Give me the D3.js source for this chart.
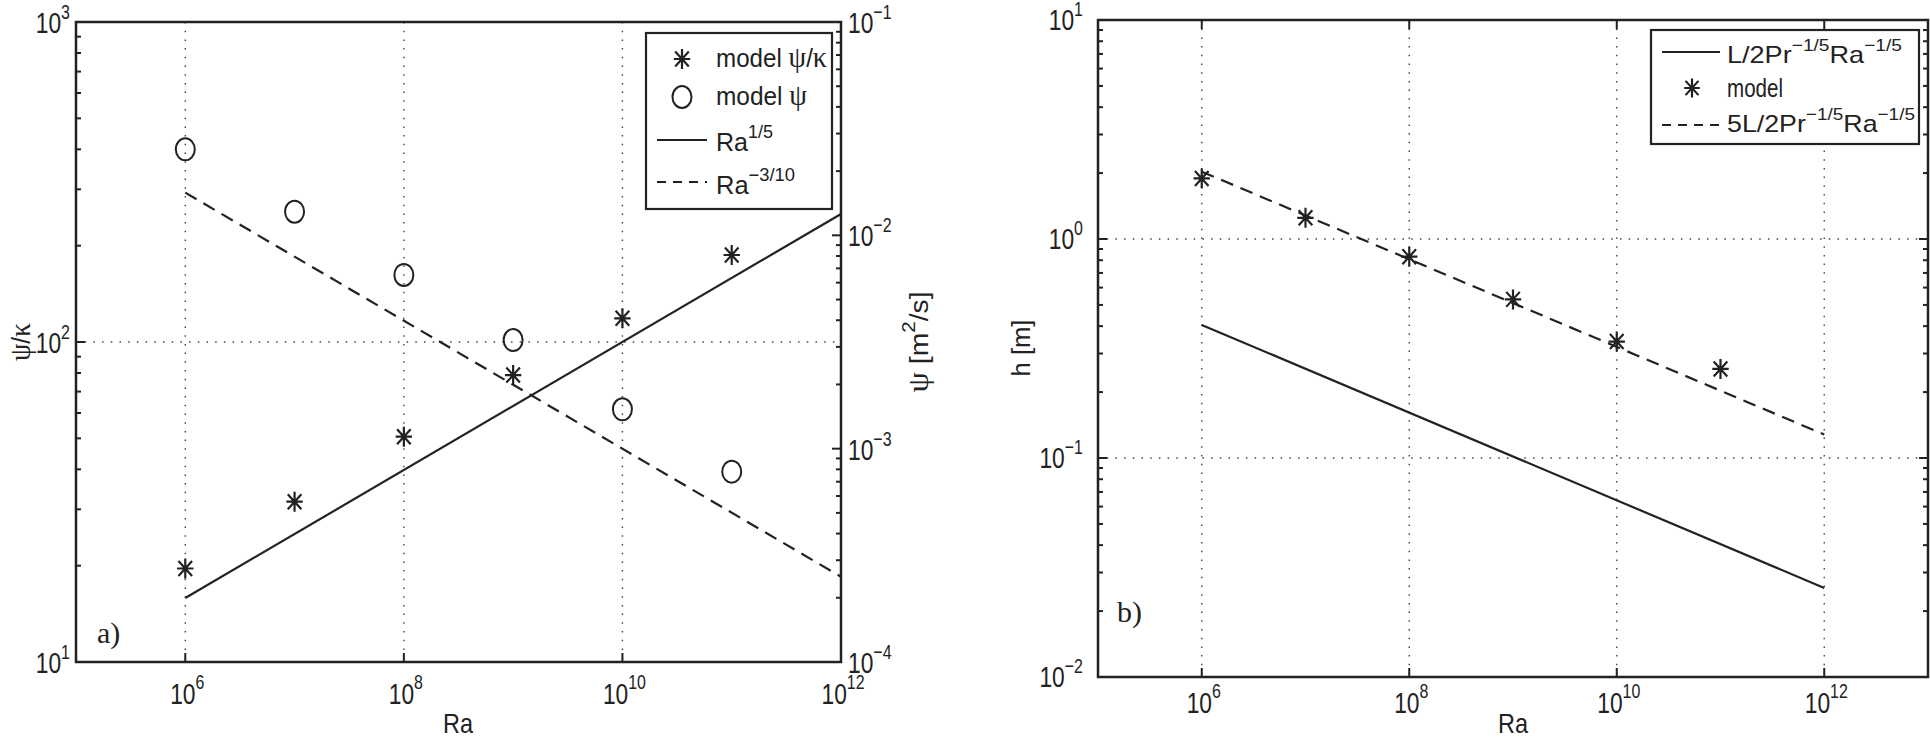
<!DOCTYPE html>
<html>
<head>
<meta charset="utf-8">
<script src="https://cdn.jsdelivr.net/npm/d3@7"></script>
<style>
  body { margin: 0; background: #fff; }
  svg { display: block; }
</style>
</head>
<body>
<svg id="plotarea" width="1930" height="742"></svg>
<script>
// ---- data ----
var raModel = [1e6, 1e7, 1e8, 1e9, 1e10, 1e11];
var psiKappa = [19.6, 31.7, 50.6, 78.8, 118.6, 187];      // left axis, panel a
var psiModel = [0.0253, 0.0129, 0.00652, 0.00323, 0.00153, 0.00078]; // right axis, panel a
var raFit = [1e6, 1e12];
var fitRa15 = [15.85, 251.2];        // Ra^(1/5)
var fitRa310 = [0.01585, 0.000251];  // Ra^(-3/10)
var hModel = [1.89, 1.25, 0.83, 0.53, 0.34, 0.255];
var hFit = [0.405, 0.0255];          // L/2 Pr^-1/5 Ra^-1/5
var hFit5 = [2.03, 0.128];           // 5L/2 Pr^-1/5 Ra^-1/5

var xTicks = [1e6, 1e8, 1e10, 1e12];
var yLeftTicks = [10, 100, 1000];
var yRightTicks = [1e-4, 1e-3, 1e-2, 1e-1];
var hTicks = [0.01, 0.1, 1, 10];

var SANS = "Arial, 'Liberation Sans', Helvetica, sans-serif";
var SERIF = "'Times New Roman', 'Liberation Serif', serif";
var SQ = 0.76; // tick text in the picture is horizontally squeezed
var GRID_DASH = "1.5,7.2";

var svg = d3.select("#plotarea");
svg.append("rect").attr("width", 1930).attr("height", 742).attr("fill", "#fff");

function pow10(v) { return Math.round(Math.log10(v)); }
function isMajor(v) { return Math.abs(Math.log10(v) - pow10(v)) < 1e-9; }

// label "10^n" with a raised exponent
function powLabel(g, x, y, v, anchor, expDy) {
    var t = g.append("text")
        .attr("transform", "translate(" + x + "," + y + ") scale(" + SQ + ",1)")
        .attr("text-anchor", anchor)
        .style("font-family", SANS)
        .style("font-size", "30px")
        .attr("fill", "#222");
    t.append("tspan").text("10");
    var e = pow10(v);
    t.append("tspan").attr("dy", -expDy).style("font-size", "21px")
        .text(e < 0 ? "\u2212" + (-e) : String(e));
    return t;
}

// text made from parts: [string, kind] kind = n | sup | greek; len = target width
function richText(g, x, y, parts, size, len, rotate) {
    var tf = "translate(" + x + "," + y + ")" + (rotate ? " rotate(-90)" : "");
    var t = g.append("text")
        .attr("transform", tf)
        .attr("text-anchor", rotate ? "middle" : "start")
        .style("font-family", SANS)
        .style("font-size", size + "px")
        .attr("fill", "#222");
    if (len) t.attr("textLength", len).attr("lengthAdjust", "spacingAndGlyphs");
    var raised = 0;
    parts.forEach(function (p) {
        var s = t.append("tspan").text(p[0]);
        var want = p[1] == "sup" ? Math.round(size * 0.5) : 0;
        if (want != raised) { s.attr("dy", raised - want); raised = want; }
        if (p[1] == "sup") s.style("font-size", Math.round(size * 0.72) + "px");
        if (p[1] == "greek") s.style("font-family", SERIF).style("font-size", (size + 4) + "px");
    });
    return t;
}

function starPath(s) {
    var a = s, b = s * 0.82, d = s * 0.68, e = s * 0.75;
    return "M0," + (-a) + "V" + a + "M" + (-b) + ",0H" + b +
        "M" + (-d) + "," + (-e) + "L" + d + "," + e +
        "M" + (-d) + "," + e + "L" + d + "," + (-e);
}

function stars(g, xs, ys, x, y) {
    g.selectAll(null).data(xs).enter().append("path")
        .attr("transform", function (d, i) { return "translate(" + x(d) + "," + y(ys[i]) + ")"; })
        .attr("d", starPath(10))
        .attr("stroke", "#222").attr("stroke-width", 2.2).attr("fill", "none");
}

function rings(g, xs, ys, x, y) {
    g.selectAll(null).data(xs).enter().append("ellipse")
        .attr("cx", function (d) { return x(d); })
        .attr("cy", function (d, i) { return y(ys[i]); })
        .attr("rx", 9.5).attr("ry", 11)
        .attr("stroke", "#222").attr("stroke-width", 2).attr("fill", "none");
}

function fitLine(g, xs, ys, x, y, dashed) {
    var line = d3.line().x(function (d) { return x(d[0]); }).y(function (d) { return y(d[1]); });
    g.append("path")
        .datum(xs.map(function (d, i) { return [d, ys[i]]; }))
        .attr("d", line)
        .attr("fill", "none").attr("stroke", "#222").attr("stroke-width", 2.2)
        .attr("stroke-dasharray", dashed ? "13,8" : null);
}

function vTicks(g, y, xPos, dir) {
    // dir = +1 ticks go right, -1 go left
    y.ticks().forEach(function (v) {
        var len = isMajor(v) ? 9 : 5;
        g.append("line").attr("x1", xPos).attr("x2", xPos + dir * len)
            .attr("y1", y(v)).attr("y2", y(v))
            .attr("stroke", "#222").attr("stroke-width", 2);
    });
}

// ================= panel a =================
var xa = d3.scaleLog().domain([1e5, 1e12]).range([76, 841]);
var ya = d3.scaleLog().domain([10, 1000]).range([662, 22]);
var yb = d3.scaleLog().domain([1e-4, 1e-1]).range([662, 22]);
var ga = svg.append("g");

// grid
xTicks.forEach(function (v) {
    ga.append("line").attr("x1", xa(v)).attr("x2", xa(v)).attr("y1", 22).attr("y2", 662)
        .attr("stroke", "#444").attr("stroke-width", 1.4).attr("stroke-dasharray", GRID_DASH);
});
yLeftTicks.forEach(function (v) {
    ga.append("line").attr("x1", 76).attr("x2", 841).attr("y1", ya(v)).attr("y2", ya(v))
        .attr("stroke", "#444").attr("stroke-width", 1.4).attr("stroke-dasharray", GRID_DASH);
});

fitLine(ga, raFit, fitRa15, xa, ya, false);
fitLine(ga, raFit, fitRa310, xa, yb, true);
stars(ga, raModel, psiKappa, xa, ya);
rings(ga, raModel, psiModel, xa, yb);

// frame
ga.append("rect").attr("x", 76).attr("y", 22).attr("width", 765).attr("height", 640)
    .attr("fill", "none").attr("stroke", "#222").attr("stroke-width", 2.5);
vTicks(ga, ya, 76, 1);
vTicks(ga, yb, 841, -1);
xTicks.forEach(function (v) {
    ga.append("line").attr("x1", xa(v)).attr("x2", xa(v)).attr("y1", 662).attr("y2", 653)
        .attr("stroke", "#222").attr("stroke-width", 2);
    powLabel(ga, xa(v) + 2, 704, v, "middle", 15);
});
yLeftTicks.forEach(function (v) { powLabel(ga, 70, ya(v) + 11, v, "end", 14); });
yRightTicks.forEach(function (v) { powLabel(ga, 848, yb(v) + 11, v, "start", 14); });

richText(ga, 443, 733, [["Ra", "n"]], 28, 30, false);
richText(ga, 30, 342, [["\u03c8", "greek"], ["/", "n"], ["\u03ba", "greek"]], 26, 38, true);
richText(ga, 928, 342, [["\u03c8", "greek"], [" [m", "n"], ["2", "sup"], ["/s]", "n"]], 26, 101, true);
ga.append("text").attr("x", 97).attr("y", 643).style("font-family", SERIF)
    .style("font-size", "30px").attr("fill", "#222").text("a)");

// legend a
var la = ga.append("g");
la.append("rect").attr("x", 646).attr("y", 33).attr("width", 186).attr("height", 176)
    .attr("fill", "#fff").attr("stroke", "#222").attr("stroke-width", 2.2);
la.append("path").attr("transform", "translate(682,59)").attr("d", starPath(10))
    .attr("stroke", "#222").attr("stroke-width", 2.2).attr("fill", "none");
richText(la, 716, 67, [["model ", "n"], ["\u03c8", "greek"], ["/", "n"], ["\u03ba", "greek"]], 25, 111, false);
la.append("ellipse").attr("cx", 682).attr("cy", 97).attr("rx", 9.5).attr("ry", 11)
    .attr("stroke", "#222").attr("stroke-width", 2).attr("fill", "none");
richText(la, 716, 105, [["model ", "n"], ["\u03c8", "greek"]], 25, 91, false);
la.append("line").attr("x1", 657).attr("x2", 707).attr("y1", 140).attr("y2", 140)
    .attr("stroke", "#222").attr("stroke-width", 2.2);
richText(la, 716, 151, [["Ra", "n"], ["1/5", "sup"]], 25, 57, false);
la.append("line").attr("x1", 657).attr("x2", 707).attr("y1", 182).attr("y2", 182)
    .attr("stroke", "#222").attr("stroke-width", 2.2).attr("stroke-dasharray", "9,7");
richText(la, 716, 194, [["Ra", "n"], ["\u22123/10", "sup"]], 25, 79, false);

// ================= panel b =================
var xh = d3.scaleLog().domain([1e5, 1e13]).range([1098, 1928]);
var yh = d3.scaleLog().domain([0.01, 10]).range([677, 20]);
var gb = svg.append("g");

xTicks.forEach(function (v) {
    gb.append("line").attr("x1", xh(v)).attr("x2", xh(v)).attr("y1", 20).attr("y2", 677)
        .attr("stroke", "#444").attr("stroke-width", 1.4).attr("stroke-dasharray", GRID_DASH);
});
hTicks.forEach(function (v) {
    gb.append("line").attr("x1", 1098).attr("x2", 1928).attr("y1", yh(v)).attr("y2", yh(v))
        .attr("stroke", "#444").attr("stroke-width", 1.4).attr("stroke-dasharray", GRID_DASH);
});

fitLine(gb, raFit, hFit, xh, yh, false);
fitLine(gb, raFit, hFit5, xh, yh, true);
stars(gb, raModel, hModel, xh, yh);

gb.append("rect").attr("x", 1098).attr("y", 20).attr("width", 830).attr("height", 657)
    .attr("fill", "none").attr("stroke", "#222").attr("stroke-width", 2.5);
vTicks(gb, yh, 1098, 1);
vTicks(gb, yh, 1928, -1);
xTicks.forEach(function (v) {
    gb.append("line").attr("x1", xh(v)).attr("x2", xh(v)).attr("y1", 677).attr("y2", 668)
        .attr("stroke", "#222").attr("stroke-width", 2);
    gb.append("line").attr("x1", xh(v)).attr("x2", xh(v)).attr("y1", 20).attr("y2", 29)
        .attr("stroke", "#222").attr("stroke-width", 2);
    powLabel(gb, xh(v) + 2, 713, v, "middle", 15);
});
hTicks.forEach(function (v) { powLabel(gb, 1083, yh(v) + 10, v, "end", 14); });

richText(gb, 1498, 733, [["Ra", "n"]], 28, 30, false);
richText(gb, 1030, 348, [["h [m]", "n"]], 26, 57, true);
gb.append("text").attr("x", 1117).attr("y", 622).style("font-family", SERIF)
    .style("font-size", "30px").attr("fill", "#222").text("b)");

// legend b
var lb = gb.append("g");
lb.append("rect").attr("x", 1651).attr("y", 30).attr("width", 268).attr("height", 114)
    .attr("fill", "#fff").attr("stroke", "#222").attr("stroke-width", 2.2);
lb.append("line").attr("x1", 1662).attr("x2", 1720).attr("y1", 52).attr("y2", 52)
    .attr("stroke", "#222").attr("stroke-width", 2.2);
richText(lb, 1727, 63, [["L/2Pr", "n"], ["\u22121/5", "sup"], ["Ra", "n"], ["\u22121/5", "sup"]], 24, 175, false);
lb.append("path").attr("transform", "translate(1692,88)").attr("d", starPath(9.5))
    .attr("stroke", "#222").attr("stroke-width", 2.2).attr("fill", "none");
richText(lb, 1727, 97, [["model", "n"]], 25, 56, false);
lb.append("line").attr("x1", 1662).attr("x2", 1720).attr("y1", 125).attr("y2", 125)
    .attr("stroke", "#222").attr("stroke-width", 2.2).attr("stroke-dasharray", "9,7");
richText(lb, 1727, 132, [["5L/2Pr", "n"], ["\u22121/5", "sup"], ["Ra", "n"], ["\u22121/5", "sup"]], 24, 188, false);
</script>
</body>
</html>
